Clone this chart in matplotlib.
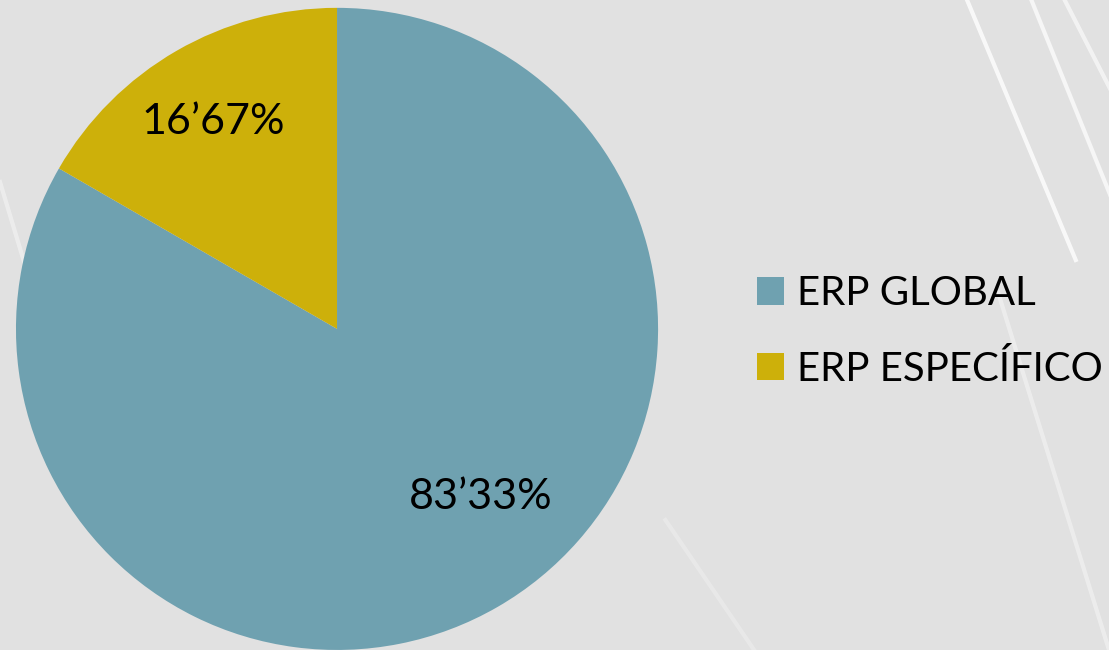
import matplotlib.pyplot as plt
from matplotlib.patches import Patch

# data
labels = ['ERP GLOBAL', 'ERP ESPECÍFICO']
values = [83.33, 16.67]
pct_text = ['83’33%', '16’67%']
colors = ['#6fa1b0', '#cdb00a']

plt.rcParams['font.family'] = ['Lato', 'DejaVu Sans']

fig = plt.figure(figsize=(11.09, 6.5), dpi=100)
fig.patch.set_facecolor('#e1e1e1')

# slide background streaks
for x0, y0, x1, y1, a in [(0.872, 1.0, 0.97, 0.6, 0.8), (0.93, 1.0, 1.02, 0.62, 0.7),
                          (0.96, 1.0, 1.05, 0.7, 0.6), (0.90, 0.55, 1.0, 0.0, 0.4),
                          (0.0, 0.72, 0.03, 0.55, 0.4), (0.6, 0.2, 0.68, 0.0, 0.25)]:
    fig.add_artist(plt.Line2D([x0, x1], [y0, y1], color='white', lw=3, alpha=a,
                              transform=fig.transFigure, zorder=0))

ax = fig.add_axes([0.0144, 0.0, 0.579, 0.988])
wedges, _ = ax.pie(values, colors=colors, startangle=90, counterclock=False,
                   radius=1.0, wedgeprops=dict(linewidth=0))
ax.set_xlim(-1, 1)
ax.set_ylim(-1, 1)
ax.set_aspect('equal')
ax.axis('off')

ax.text(0.449, -0.523, pct_text[0], ha='center', va='center', fontsize=31, color='black')
ax.text(-0.386, 0.645, pct_text[1], ha='center', va='center', fontsize=31, color='black')

handles = [Patch(facecolor=c, edgecolor='none') for c in colors]
fig.legend(handles, labels, loc='center left', bbox_to_anchor=(0.683, 0.49),
           frameon=False, fontsize=29, handlelength=0.67, handleheight=0.67,
           handletextpad=0.3, labelspacing=0.93, borderpad=0, borderaxespad=0)

fig.savefig('out.png', dpi=100, facecolor=fig.get_facecolor())
